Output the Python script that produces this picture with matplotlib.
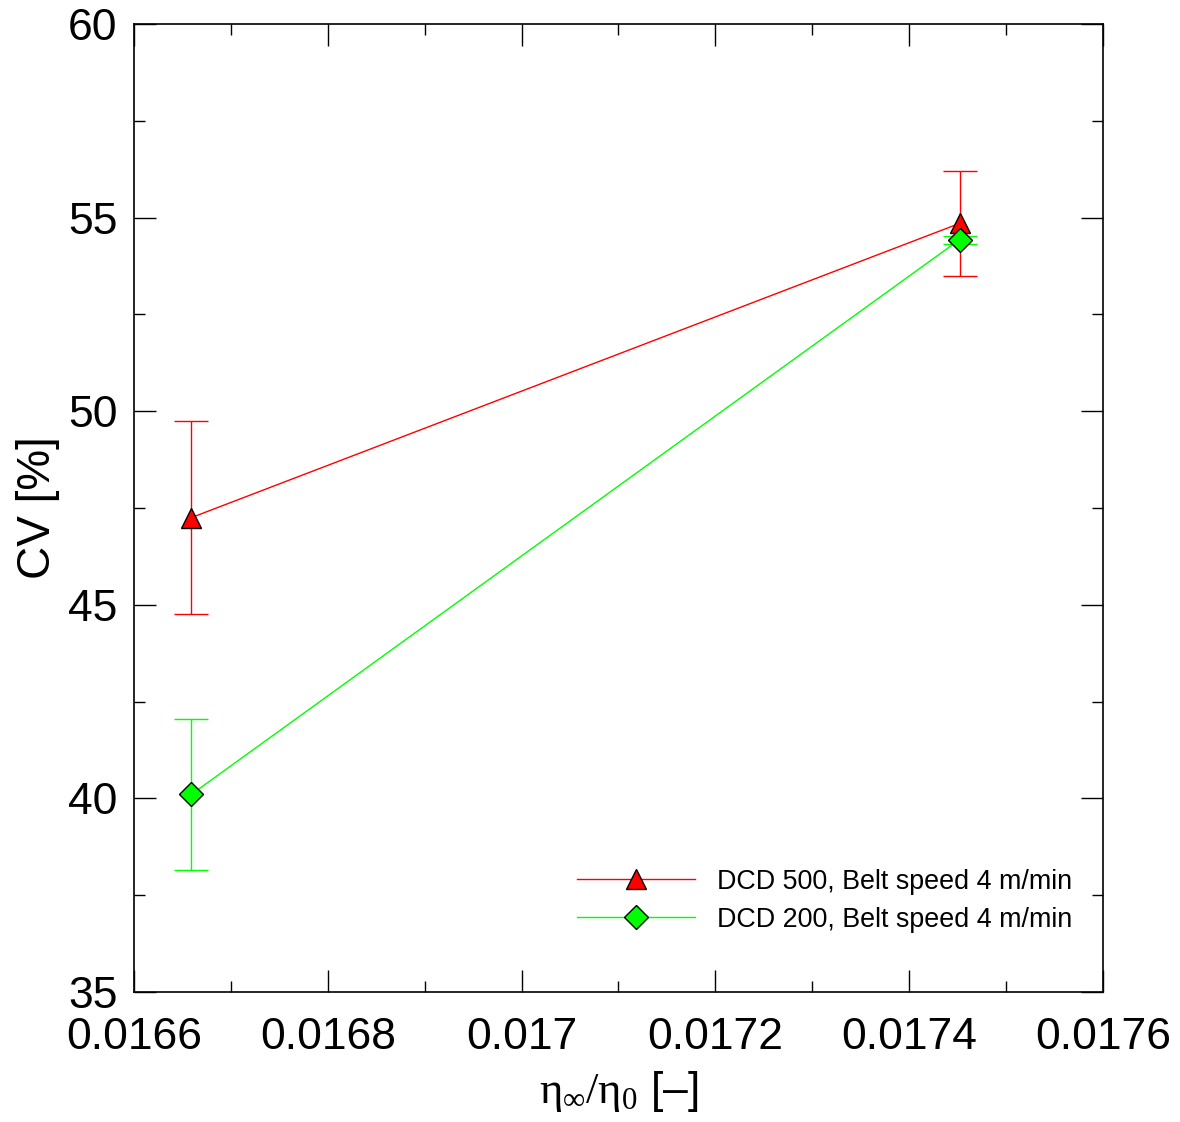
import numpy as np
import matplotlib
matplotlib.use('Agg')
import matplotlib.pyplot as plt
from matplotlib.ticker import MultipleLocator, FixedLocator

# データ
x_vals = [0.016659, 0.017452]
cv_500 = [47.25, 54.85]
err_500 = [2.5, 1.35]
cv_200 = [40.1, 54.43]
err_200 = [1.95, 0.1]
labels = ['DCD 500, Belt speed 4 m/min', 'DCD 200, Belt speed 4 m/min']
xticks = [0.0166, 0.0168, 0.017, 0.0172, 0.0174, 0.0176]
xticklabels = ['0.0166', '0.0168', '0.017', '0.0172', '0.0174', '0.0176']

plt.rcParams['font.family'] = ['Liberation Sans', 'DejaVu Sans']
plt.rcParams['mathtext.fontset'] = 'custom'
plt.rcParams['mathtext.rm'] = 'Liberation Serif'
plt.rcParams['mathtext.it'] = 'Liberation Serif'

fig = plt.figure(figsize=(11.8, 11.22), dpi=100)
ax = fig.add_axes([0.1136, 0.1159, 0.8211, 0.8627])

# エラーバー
ax.errorbar(x_vals, cv_500, yerr=err_500, color='#ff0000', lw=1, capsize=12,
            fmt='none')
ax.errorbar(x_vals, cv_200, yerr=err_200, color='#00ff00', lw=1, capsize=12,
            fmt='none')
# 線とマーカー
ax.plot(x_vals, cv_500, color='#ff0000', lw=1,
        marker='^', markersize=15, markerfacecolor='#ff0000',
        markeredgecolor='black', markeredgewidth=1, label=labels[0])
ax.plot(x_vals, cv_200, color='#00ff00', lw=1,
        marker='D', markersize=12, markerfacecolor='#00ff00',
        markeredgecolor='black', markeredgewidth=1, label=labels[1])

ax.set_xlim(0.0166, 0.0176)
ax.set_ylim(35, 60)
ax.xaxis.set_major_locator(FixedLocator(xticks))
ax.set_xticklabels(xticklabels)
ax.xaxis.set_minor_locator(MultipleLocator(0.0001))
ax.yaxis.set_major_locator(MultipleLocator(5))
ax.yaxis.set_minor_locator(MultipleLocator(2.5))

ax.tick_params(which='both', direction='in', top=True, right=True, width=1)
ax.tick_params(which='major', length=16, labelsize=32)
ax.tick_params(axis='x', which='major', pad=18)
ax.tick_params(axis='y', which='major', pad=12)
ax.tick_params(which='minor', length=8)
for s in ax.spines.values():
    s.set_linewidth(1.2)

ax.set_ylabel('CV [%]', fontsize=33, labelpad=6)
ax.set_xlabel(r'$\eta_\infty/\eta_0$ [–]', fontsize=32, labelpad=8)

ax.legend(loc='lower right', frameon=False, fontsize=19.4, handlelength=4.4,
          bbox_to_anchor=(0.993, 0.036), labelspacing=0.45)

plt.savefig('out.png', dpi=100)
